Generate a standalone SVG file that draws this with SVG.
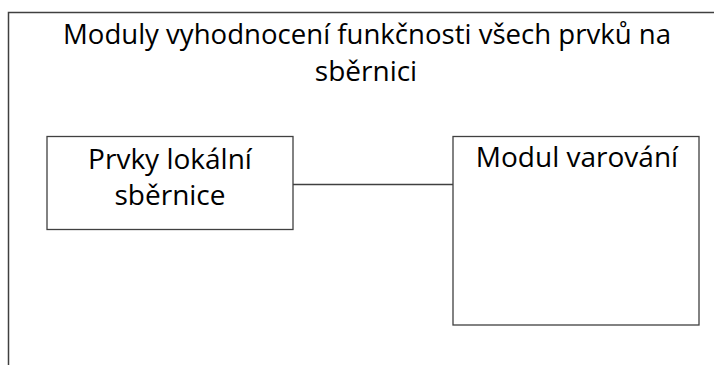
<svg xmlns="http://www.w3.org/2000/svg" width="714" height="365" viewBox="0 0 714 365">
  <style>
    .frame { fill: none; stroke: #404040; stroke-width: 1.5; }
    .box { fill: #ffffff; stroke: #404040; stroke-width: 1.3; }
    .wire { fill: none; stroke: #404040; stroke-width: 1.3; }
    text { font-family: "Open Sans", "Liberation Sans", sans-serif; fill: #000000; text-anchor: middle; font-size: 28px; }
  </style>
  <rect width="714" height="365" fill="#ffffff"/>

  <!-- outer module frame -->
  <g id="frame">
    <path class="frame" d="M8.5,365 V12.5 H714"/>
    <text x="367" y="44" textLength="608" lengthAdjust="spacingAndGlyphs">Moduly vyhodnocení funkčnosti všech prvků na</text>
    <text x="366" y="81">sběrnici</text>
  </g>

  <!-- connectors -->
  <g id="connectors">
    <line class="wire" x1="293" y1="184.5" x2="453" y2="184.5"/>
  </g>

  <g id="node-prvky">
    <rect class="box" x="47" y="136.5" width="246" height="93"/>
    <text x="170" y="169">Prvky lokální</text>
    <text x="170" y="205">sběrnice</text>
  </g>

  <g id="node-varovani">
    <rect class="box" x="453" y="136.5" width="246" height="188.5"/>
    <text x="577" y="167">Modul varování</text>
  </g>
</svg>
